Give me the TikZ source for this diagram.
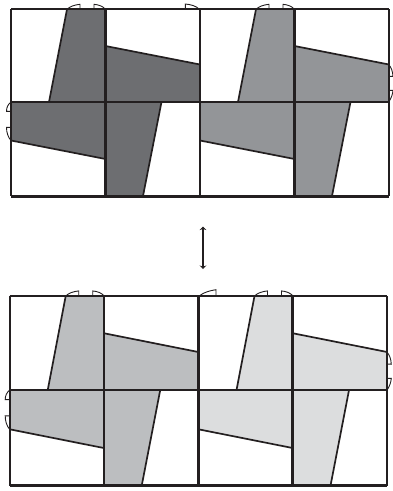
\documentclass[tikz,border=0pt]{standalone}
\usepackage{tikz}
\usetikzlibrary{arrows.meta}

\definecolor{inkline}{HTML}{231F20}
\definecolor{toneA}{HTML}{6D6E71}
\definecolor{toneB}{HTML}{939598}
\definecolor{toneC}{HTML}{BCBEC0}
\definecolor{toneD}{HTML}{DCDDDE}

\tikzset{
  edgeline/.style={draw=inkline, line width=1.7pt, line join=miter},
  tabline/.style={draw=inkline, line width=0.9pt},
}

\begin{document}
\begin{tikzpicture}[x=1pt, y=-1pt, >=Stealth]
\useasboundingbox (0, 0) rectangle (393, 491);

% --- Blades of each panel ---
\foreach \px/\py/\sy/\tone in {11/9.3/1/toneA, 200/9.3/1/toneB, 9.7/296/1.016/toneC, 198.5/296/1.016/toneD} {
  \begin{scope}[shift={(\px, \py)}, yscale=\sy]
    \fill[\tone] (56, 0) -- (94.5, 0) -- (94.5, 92.7) -- (38, 92.7) -- cycle;
    \fill[\tone] (94.5, 36.7) -- (189, 55.2) -- (189, 92.7) -- (94.5, 92.7) -- cycle;
    \fill[\tone] (94.5, 92.7) -- (150.5, 92.7) -- (132, 186.7) -- (94.5, 186.7) -- cycle;
    \fill[\tone] (0, 92.7) -- (94.5, 92.7) -- (94.5, 149.7) -- (0, 131.2) -- cycle;
    % slanted edges
    \draw[edgeline] (56, 0) -- (38, 92.7);
    \draw[edgeline] (94.5, 36.7) -- (189, 55.2);
    \draw[edgeline] (150.5, 92.7) -- (132, 186.7);
    \draw[edgeline] (0, 131.2) -- (94.5, 149.7);
    % tabs on the top edge
    \draw[tabline] (56, 0) .. controls (59, -3) and (64, -4.5) .. (69, -5) -- (69, 0);
    \draw[tabline] (83, 0) -- (83, -5) .. controls (88, -4.5) and (92, -3) .. (94.5, 0);
  \end{scope}
}

% --- Grid of each row ---
\foreach \lx/\rx/\ty/\my/\by in {11/388.7/9.3/102/196, 9.7/387/296/390/485.7} {
  \draw[inkline, line width=2pt] (\lx, \ty) -- (\rx, \ty);
  \draw[inkline, line width=2.6pt] (\lx, \my) -- (\rx, \my);
  \draw[inkline, line width=3pt] (\lx, \by) -- (\rx, \by);
  \draw[inkline, line width=1.7pt] (\lx, \ty) -- (\lx, \by);
  \draw[inkline, line width=1.7pt] (\rx, \ty) -- (\rx, \by);
}
\foreach \gx/\ty/\by in {105.5/9.3/196, 200/9.3/196, 294.5/9.3/196, 104/296/485.7, 198.5/296/485.7, 292.5/296/485.7} {
  \draw[inkline, line width=2.6pt] (\gx, \ty) -- (\gx, \by);
}

% --- Side tabs, left ---
\foreach \px/\py/\sy in {11/9.3/1, 9.7/296/1.016} {
  \begin{scope}[shift={(\px, \py)}, yscale=\sy]
    \draw[tabline] (0, 92.7) .. controls (-3, 95) and (-4.5, 98) .. (-4.5, 102) -- (0, 102);
    \draw[tabline] (0, 118) -- (-4.5, 118) .. controls (-4.5, 123) and (-3, 128) .. (0, 131.2);
  \end{scope}
}

% --- Side tabs, right ---
\foreach \px/\py/\sy in {388.7/9.3/1, 387/296/1.016} {
  \begin{scope}[shift={(\px, \py)}, yscale=\sy]
    \draw[tabline] (0, 55.2) .. controls (2.5, 58) and (4, 62) .. (4.3, 67) -- (0, 67);
    \draw[tabline] (0, 81) -- (4.3, 81) .. controls (4, 85) and (2.5, 89) .. (0, 92.7);
  \end{scope}
}

% --- Stray top tabs ---
\draw[tabline] (185.3, 9) -- (185.3, 4) .. controls (191, 4.5) and (196, 6) .. (199, 9);
\draw[tabline] (200.5, 295) .. controls (204, 292.5) and (210, 290.5) .. (216, 289.7) -- (216, 295);

% --- Double arrow between the rows ---
\coordinate (upper) at (203, 226.5);
\coordinate (lower) at (203, 269);
\draw[{Stealth[length=3.5pt, width=6.5pt]}-{Stealth[length=3.5pt, width=6.5pt]}, inkline, line width=2.2pt] (upper) -- (lower);

\end{tikzpicture}
\end{document}
